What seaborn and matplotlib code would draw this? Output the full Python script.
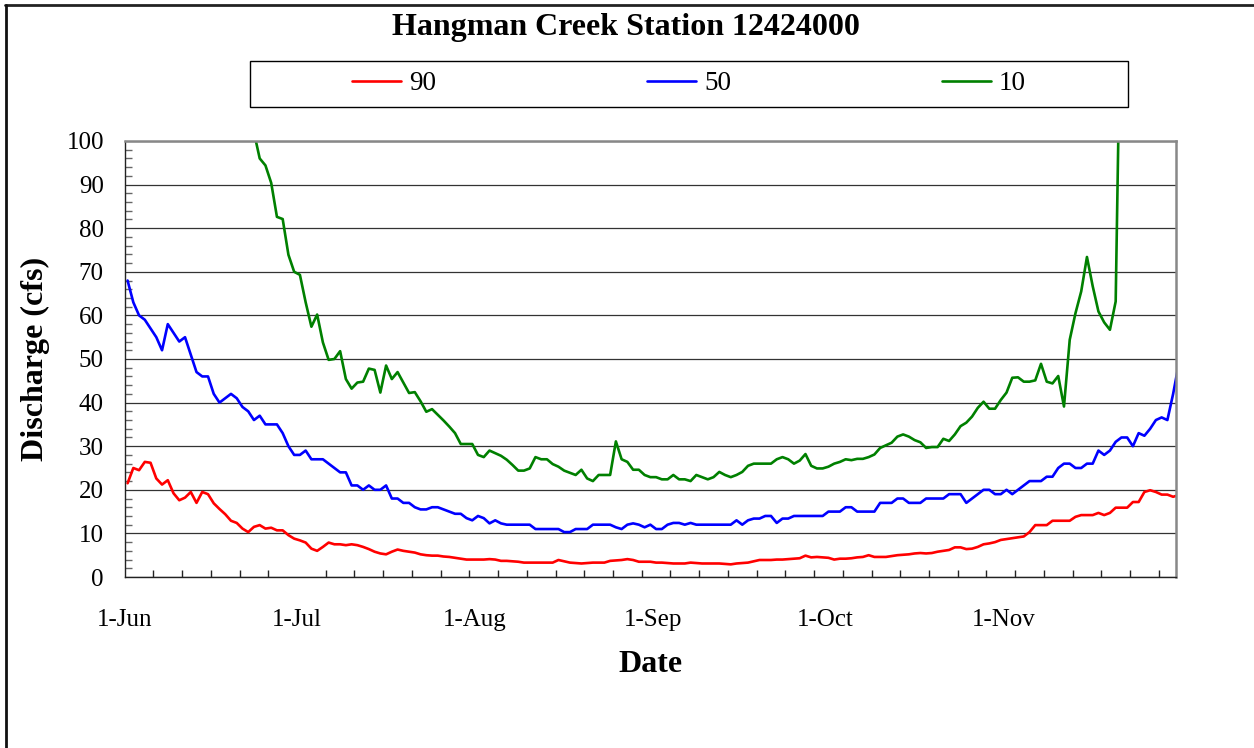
import numpy as np
import pandas as pd
import matplotlib
matplotlib.use("Agg")
import matplotlib.pyplot as plt
from matplotlib.patches import Rectangle
from matplotlib.lines import Line2D
from matplotlib.ticker import FixedLocator, MultipleLocator
import seaborn as sns

# ---------------- data ----------------
TITLE = "Hangman Creek Station 12424000"
SERIES = ["90", "50", "10"]
COLORS = ["#FF0000", "#0000FF", "#008000"]
MONTH_LABELS = ["1-Jun", "1-Jul", "1-Aug", "1-Sep", "1-Oct", "1-Nov"]
START_DATE = "2001-06-01"
END_DATE = "2001-12-01"

q90 = [21.5, 25.0, 24.5, 26.4, 26.2, 22.6, 21.2, 22.2, 19.2, 17.6,
       18.2, 19.5, 17.0, 19.5, 19.0, 16.9, 15.6, 14.4, 12.9, 12.4,
       11.1, 10.3, 11.5, 11.9, 11.1, 11.3, 10.7, 10.7, 9.6, 8.8,
       8.4, 7.9, 6.5, 6.0, 6.9, 7.9, 7.5, 7.5, 7.3, 7.5,
       7.3, 6.9, 6.4, 5.8, 5.4, 5.2, 5.8, 6.3, 6.0, 5.8,
       5.6, 5.2, 5.0, 4.9, 4.9, 4.7, 4.6, 4.4, 4.2, 4.0,
       4.0, 4.0, 4.0, 4.1, 4.0, 3.7, 3.7, 3.6, 3.5, 3.3,
       3.3, 3.3, 3.3, 3.3, 3.3, 3.9, 3.6, 3.3, 3.2, 3.1,
       3.2, 3.3, 3.3, 3.3, 3.7, 3.8, 3.9, 4.1, 3.9, 3.5,
       3.5, 3.5, 3.3, 3.3, 3.2, 3.1, 3.1, 3.1, 3.3, 3.2,
       3.1, 3.1, 3.1, 3.1, 3.0, 2.9, 3.1, 3.2, 3.3, 3.6,
       3.9, 3.9, 3.9, 4.0, 4.0, 4.1, 4.2, 4.3, 4.9, 4.5,
       4.6, 4.5, 4.4, 4.0, 4.2, 4.2, 4.3, 4.5, 4.6, 5.0,
       4.6, 4.6, 4.6, 4.8, 5.0, 5.1, 5.2, 5.4, 5.5, 5.4,
       5.5, 5.8, 6.0, 6.2, 6.8, 6.8, 6.4, 6.5, 6.9, 7.5,
       7.7, 8.0, 8.5, 8.7, 8.9, 9.1, 9.3, 10.3, 11.9, 11.9,
       11.9, 12.9, 12.9, 12.9, 12.9, 13.8, 14.2, 14.2, 14.2, 14.7,
       14.2, 14.7, 15.9, 15.9, 15.9, 17.2, 17.2, 19.5, 19.9, 19.5,
       18.9, 18.9, 18.4, 18.8]

q50 = [68, 63, 60, 59, 57, 55, 52, 58, 56, 54,
       55, 51, 47, 46, 46, 42, 40, 41, 42, 41,
       39, 38, 36, 37, 35, 35, 35, 33, 30, 28,
       28, 29, 27, 27, 27, 26, 25, 24, 24, 21,
       21, 20, 21, 20, 20, 21, 18, 18, 17, 17,
       16, 15.5, 15.5, 16, 16, 15.5, 15, 14.5, 14.5, 13.5,
       13, 14, 13.5, 12.3, 13, 12.3, 12, 12, 12, 12,
       12, 11, 11, 11, 11, 11, 10.3, 10.3, 11, 11,
       11, 12, 12, 12, 12, 11.4, 11, 12, 12.3, 12,
       11.4, 12, 11, 11, 12, 12.4, 12.4, 12, 12.4, 12,
       12, 12, 12, 12, 12, 12, 13, 12, 13, 13.4,
       13.4, 14, 14, 12.4, 13.4, 13.4, 14, 14, 14, 14,
       14, 14, 15, 15, 15, 16, 16, 15, 15, 15,
       15, 17, 17, 17, 18, 18, 17, 17, 17, 18,
       18, 18, 18, 19, 19, 19, 17, 18, 19, 20,
       20, 19, 19, 20, 19, 20, 21, 22, 22, 22,
       23, 23, 25, 26, 26, 25, 25, 26, 26, 29,
       28, 29, 31, 32, 32, 30, 33, 32.4, 34, 36,
       36.6, 36, 42, 49]

q10 = [300, 285, 270, 258, 246, 235, 224, 212, 200, 190,
       180, 170, 162, 154, 146, 139, 132, 126, 120, 114,
       109, 105, 102, 96, 94.4, 90.4, 82.6, 82.1, 73.9, 70.0,
       69.3, 63.0, 57.4, 60.2, 53.8, 49.8, 50.0, 51.8, 45.4, 43.2,
       44.6, 44.8, 47.8, 47.5, 42.3, 48.5, 45.4, 47.0, 44.6, 42.2,
       42.4, 40.3, 37.9, 38.5, 37.2, 35.9, 34.5, 33.0, 30.5, 30.5,
       30.5, 28.0, 27.5, 29.0, 28.4, 27.8, 26.9, 25.7, 24.4, 24.4,
       24.9, 27.5, 27.0, 27.0, 25.9, 25.3, 24.4, 23.9, 23.4, 24.6,
       22.6, 22.0, 23.4, 23.4, 23.4, 31.1, 27.0, 26.4, 24.6, 24.6,
       23.4, 22.9, 22.9, 22.4, 22.4, 23.4, 22.4, 22.4, 22.0, 23.4,
       22.9, 22.4, 22.9, 24.1, 23.4, 22.9, 23.4, 24.1, 25.5, 26.0,
       26.0, 26.0, 26.0, 27.0, 27.5, 27.0, 26.0, 26.7, 28.2, 25.5,
       24.9, 24.9, 25.3, 26.0, 26.4, 27.0, 26.8, 27.1, 27.1, 27.5,
       28.1, 29.6, 30.2, 30.8, 32.2, 32.7, 32.2, 31.4, 30.9, 29.6,
       29.8, 29.8, 31.7, 31.2, 32.7, 34.6, 35.4, 36.8, 38.8, 40.2,
       38.6, 38.6, 40.6, 42.3, 45.7, 45.8, 44.8, 44.8, 45.1, 48.9,
       44.8, 44.4, 46.1, 39.1, 54.4, 60.5, 65.5, 73.4, 66.7, 60.9,
       58.4, 56.7, 63.2, 145, 190, 230, 260, 290, 310, 330,
       345, 360, 370, 380]

# ---------------- build table ----------------
dates = pd.date_range(START_DATE, END_DATE, freq="D")
day = (dates - dates[0]).days.to_numpy()
xpos = day + 0.5  # Excel-style: points centered within each day
df = pd.concat([
    pd.DataFrame({"x": xpos, "q": v, "series": s})
    for s, v in zip(SERIES, [q90, q50, q10])
], ignore_index=True)

month_starts = pd.to_datetime(["2001-06-01", "2001-07-01", "2001-08-01",
                               "2001-09-01", "2001-10-01", "2001-11-01"])
month_pos = (month_starts - dates[0]).days.to_numpy()

# ---------------- style ----------------
sns.set_theme(style="white")
plt.rcParams["font.family"] = ["Liberation Serif", "DejaVu Serif"]
plt.rcParams["text.color"] = "black"
plt.rcParams["axes.labelcolor"] = "black"
plt.rcParams["xtick.color"] = "black"
plt.rcParams["ytick.color"] = "black"

W, H = 1254, 748
fig = plt.figure(figsize=(W / 100, H / 100), dpi=100)
L, R, T, B = 124.7, 1176, 141, 577
ax = fig.add_axes([L / W, 1 - B / H, (R - L) / W, (B - T) / H])

sns.lineplot(data=df, x="x", y="q", hue="series", hue_order=SERIES,
             palette=COLORS, linewidth=1.9, legend=False, ax=ax,
             estimator=None, sort=False)

ax.set_xlim(0, len(dates) - 1)
ax.set_ylim(0, 100)

# y axis
ax.yaxis.set_major_locator(MultipleLocator(10))
ax.yaxis.set_minor_locator(MultipleLocator(2))
ax.tick_params(axis="y", which="major", direction="out", length=7, width=1,
               color="#333333", labelsize=18, pad=8, labelcolor="black")
ax.tick_params(axis="y", which="minor", direction="in", length=5, width=1,
               color="#666666", left=True)
# x axis
ax.xaxis.set_major_locator(FixedLocator(month_pos))
ax.xaxis.set_minor_locator(MultipleLocator(5))
ax.set_xticklabels(MONTH_LABELS)
ax.tick_params(axis="x", which="major", direction="out", length=8, width=1.2,
               color="#777777", labelsize=18, pad=15, labelcolor="black")
ax.tick_params(axis="x", which="minor", direction="in", length=5, width=1,
               color="#222222", bottom=True)

ax.yaxis.grid(True, which="major", color="#333333", linewidth=0.9)
ax.xaxis.grid(False)
ax.set_axisbelow(True)

for side in ["top", "right"]:
    ax.spines[side].set_color("#888888")
    ax.spines[side].set_linewidth(1.8)
for side in ["left", "bottom"]:
    ax.spines[side].set_color("#222222")
    ax.spines[side].set_linewidth(1.0)

ax.set_xlabel("Date", fontsize=23, fontweight="bold", color="black")
ax.set_ylabel("Discharge (cfs)", fontsize=23, fontweight="bold", color="black")
ax.xaxis.label.set_va("center")
ax.yaxis.label.set_va("center")
ax.xaxis.set_label_coords(0.5, (B - 664) / (B - T))
ax.yaxis.set_label_coords((35 - L) / (R - L), 0.5)

# title
fig.text(626 / W, 1 - 27 / H, TITLE, ha="center", va="center",
         fontsize=23, fontweight="bold", color="black")

# legend box + legend
fig.patches.append(Rectangle((250 / W, 1 - 107 / H), 878 / W, 46 / H,
                             transform=fig.transFigure, facecolor="white",
                             edgecolor="black", linewidth=1.0, zorder=0))
handles = [Line2D([], [], color=c, linewidth=1.9) for c in COLORS]
fig.legend(handles, SERIES, loc="center", bbox_to_anchor=(689 / W, 1 - 84 / H),
           ncol=3, frameon=False, fontsize=19.5, handlelength=1.8,
           handletextpad=0.3, columnspacing=7.8, labelcolor="black")

# outer chart border (top and left visible)
fig.add_artist(Line2D([5 / W, 1], [1 - 5 / H, 1 - 5 / H], transform=fig.transFigure,
                      color="#222222", linewidth=2.0))
fig.add_artist(Line2D([6 / W, 6 / W], [0, 1 - 5 / H], transform=fig.transFigure,
                      color="#111111", linewidth=2.0))

fig.savefig("out.png", dpi=100, facecolor="white")
